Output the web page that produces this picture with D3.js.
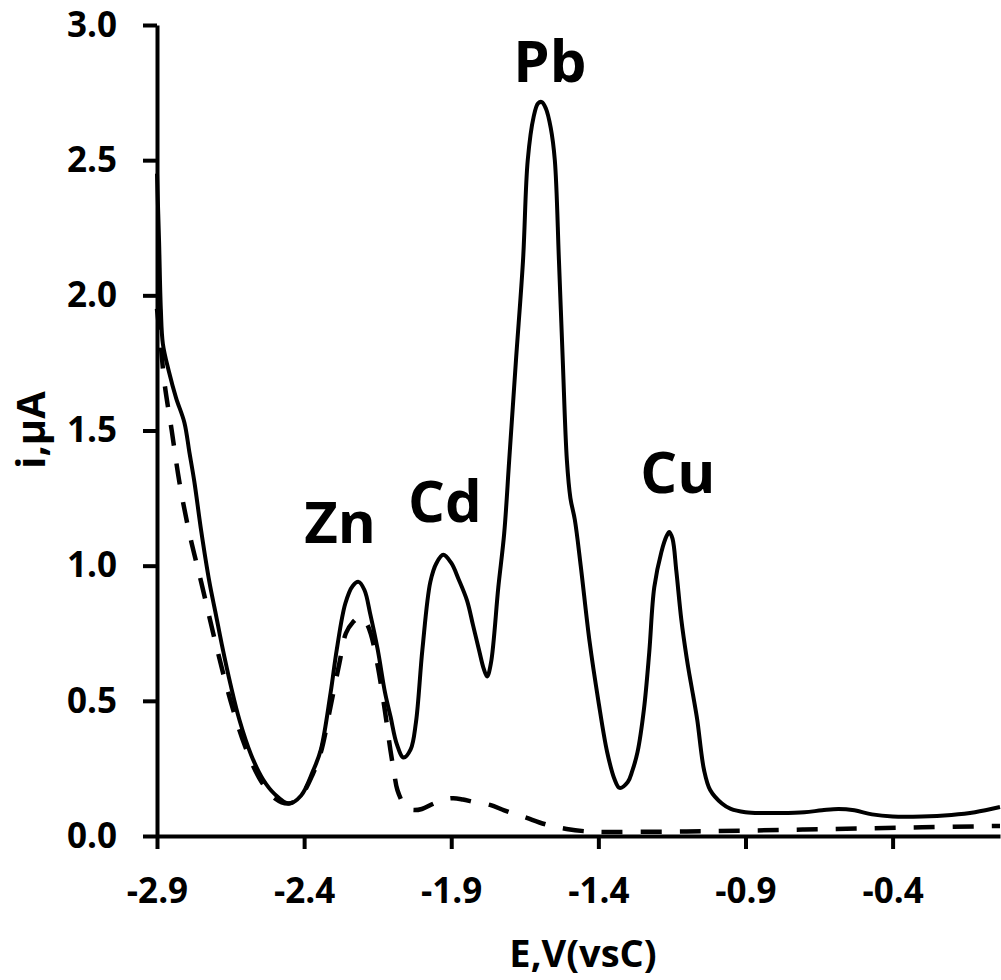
<!DOCTYPE html>
<html>
<head>
<meta charset="utf-8">
<script src="https://cdn.jsdelivr.net/npm/d3@7"></script>
<style>
    body { margin: 0; background: #fff; }
    text { font-family: "Open Sans", "Noto Sans", sans-serif; font-weight: bold; fill: #000; }
</style>
</head>
<body>
<div id="vis"></div>
<script>

// sample curve (solid)
var solidE = [-2.9, -2.893, -2.887, -2.88, -2.86, -2.835, -2.807, -2.79, -2.773, -2.75, -2.722, -2.70, -2.68, -2.65,
    -2.62, -2.58, -2.54, -2.50, -2.452, -2.41, -2.37, -2.343, -2.31, -2.289, -2.26, -2.235, -2.215, -2.195, -2.175,
    -2.15, -2.125, -2.106, -2.085, -2.062, -2.038, -2.02, -1.998, -1.971, -1.95, -1.927, -1.90, -1.875, -1.846,
    -1.826, -1.806, -1.79, -1.778, -1.765, -1.74, -1.72, -1.703, -1.68, -1.656, -1.64, -1.62, -1.605, -1.592,
    -1.578, -1.562, -1.548, -1.534, -1.521, -1.507, -1.495, -1.48, -1.46, -1.43, -1.40, -1.37, -1.345, -1.328,
    -1.30, -1.285, -1.267, -1.245, -1.227, -1.21, -1.186, -1.168, -1.159, -1.148, -1.135, -1.118, -1.1, -1.091,
    -1.078, -1.064, -1.041, -1.02, -0.98, -0.95, -0.90, -0.84, -0.78, -0.7, -0.64, -0.584, -0.53, -0.47, -0.4,
    -0.3, -0.2, -0.12, -0.035];
var solidI = [2.45, 2.2, 1.95, 1.82, 1.72, 1.62, 1.53, 1.42, 1.31, 1.13, 0.94, 0.82, 0.71, 0.56,
    0.43, 0.30, 0.21, 0.155, 0.12, 0.15, 0.24, 0.32, 0.53, 0.69, 0.86, 0.925, 0.94, 0.91, 0.82,
    0.69, 0.53, 0.44, 0.34, 0.29, 0.32, 0.42, 0.69, 0.94, 1.01, 1.04, 1.01, 0.95, 0.87,
    0.78, 0.69, 0.62, 0.59, 0.64, 0.92, 1.12, 1.39, 1.76, 2.13, 2.5, 2.66, 2.71, 2.715,
    2.69, 2.62, 2.5, 2.13, 1.76, 1.39, 1.25, 1.17, 1.0, 0.72, 0.5, 0.31, 0.21, 0.178,
    0.2, 0.24, 0.31, 0.47, 0.68, 0.92, 1.05, 1.11, 1.125, 1.1, 0.98, 0.8, 0.66, 0.60,
    0.52, 0.43, 0.245, 0.17, 0.12, 0.10, 0.088, 0.085, 0.085, 0.088, 0.095, 0.10, 0.095, 0.08, 0.072,
    0.072, 0.078, 0.088, 0.107];

// blank curve (dashed)
var blankE = [-2.9, -2.89, -2.875, -2.85, -2.824, -2.79, -2.75, -2.70, -2.65, -2.60, -2.55, -2.50, -2.452,
    -2.41, -2.37, -2.343, -2.31, -2.28, -2.258, -2.235, -2.21, -2.19, -2.174, -2.15, -2.125, -2.107, -2.095,
    -2.083, -2.06, -2.045, -2.028, -2.0, -1.96, -1.925, -1.893, -1.86, -1.82, -1.768, -1.72, -1.68, -1.643,
    -1.6, -1.55, -1.508, -1.45, -1.4, -1.3, -1.1, -0.9, -0.7, -0.5, -0.3, -0.1, -0.035];
var blankI = [1.95, 1.85, 1.68, 1.5, 1.31, 1.12, 0.94, 0.71, 0.5, 0.33, 0.21, 0.14, 0.12,
    0.15, 0.23, 0.31, 0.48, 0.64, 0.75, 0.79, 0.81, 0.79, 0.75, 0.63, 0.46, 0.32, 0.24,
    0.17, 0.115, 0.10, 0.096, 0.10, 0.12, 0.135, 0.14, 0.135, 0.125, 0.115, 0.095, 0.08, 0.067,
    0.05, 0.035, 0.026, 0.018, 0.015, 0.015, 0.017, 0.02, 0.024, 0.028, 0.032, 0.036, 0.037];

var xTicks = [-2.9, -2.4, -1.9, -1.4, -0.9, -0.4];
var yTicks = [0, 0.5, 1.0, 1.5, 2.0, 2.5, 3.0];

// peak labels, anchored in data units
var peakNames = ["Zn", "Cd", "Pb", "Cu"];
var peakLabelE = [-2.278, -1.922, -1.565, -1.130];
var peakLabelI = [1.084, 1.162, 2.789, 1.269];

var width = 1001;
var height = 980;

var svg = d3.select("#vis")
    .append('svg')
    .attr('width', width)
    .attr('height', height);

var x_scale = d3.scaleLinear()
    .domain([-2.9, -0.035])
    .range([157, 1000]);

var y_scale = d3.scaleLinear()
    .domain([0, 3.0])
    .range([836, 25]);

// plain hyphen for negatives, like the original
var fmt = function (d) { return d.toFixed(1); };

//axes
var x_axis = d3.axisBottom(x_scale)
    .tickValues(xTicks)
    .tickSizeInner(13)
    .tickSizeOuter(0)
    .tickFormat(fmt);

var y_axis = d3.axisLeft(y_scale)
    .tickValues(yTicks)
    .tickSizeInner(14)
    .tickSizeOuter(0)
    .tickFormat(fmt);

var gx = svg.append('g')
    .attr('class', 'x axis')
    .attr('transform', 'translate(0,' + y_scale(0) + ')')
    .call(x_axis);

var gy = svg.append('g')
    .attr('class', 'y axis')
    .attr('transform', 'translate(' + x_scale(-2.9) + ',0)')
    .call(y_axis);

svg.selectAll('.axis path, .axis line')
    .attr('stroke', '#000')
    .attr('stroke-width', 4);

svg.selectAll('.axis text')
    .style('font-size', '35px')
    .style('font-family', '"Open Sans", sans-serif')
    .style('font-weight', 'bold');

gx.selectAll('text')
    .attr('dy', null)
    .attr('y', 67);

gy.selectAll('text')
    .attr('x', -40);

//curves
var line = d3.line()
    .x(function (d) { return x_scale(d[0]); })
    .y(function (d) { return y_scale(d[1]); })
    .curve(d3.curveCatmullRom.alpha(0.5));

var blankData = d3.zip(blankE, blankI);
var solidData = d3.zip(solidE, solidI);

svg.append('path')
    .datum(blankData)
    .attr('fill', 'none')
    .attr('stroke', '#000')
    .attr('stroke-width', 4.5)
    .attr('stroke-dasharray', '21,18')
    .attr('d', line);

svg.append('path')
    .datum(solidData)
    .attr('fill', 'none')
    .attr('stroke', '#000')
    .attr('stroke-width', 4)
    .attr('stroke-linejoin', 'round')
    .attr('d', line);

//peak labels
svg.selectAll('.peak')
    .data(peakNames)
    .enter()
    .append('text')
    .attr('class', 'peak')
    .attr('x', function (d, i) { return x_scale(peakLabelE[i]); })
    .attr('y', function (d, i) { return y_scale(peakLabelI[i]); })
    .attr('text-anchor', 'middle')
    .style('font-size', '58px')
    .text(function (d) { return d; });

//axis titles
svg.append("text")
    .attr("x", 583)
    .attr("y", 967)
    .attr("text-anchor", "middle")
    .style("font-size", "38px")
    .text("E,V(vsC)");

svg.append("text")
    .attr("transform", "translate(45,430) rotate(-90)")
    .attr("text-anchor", "middle")
    .style("font-size", "40px")
    .text("i,μA");

</script>
</body>
</html>
